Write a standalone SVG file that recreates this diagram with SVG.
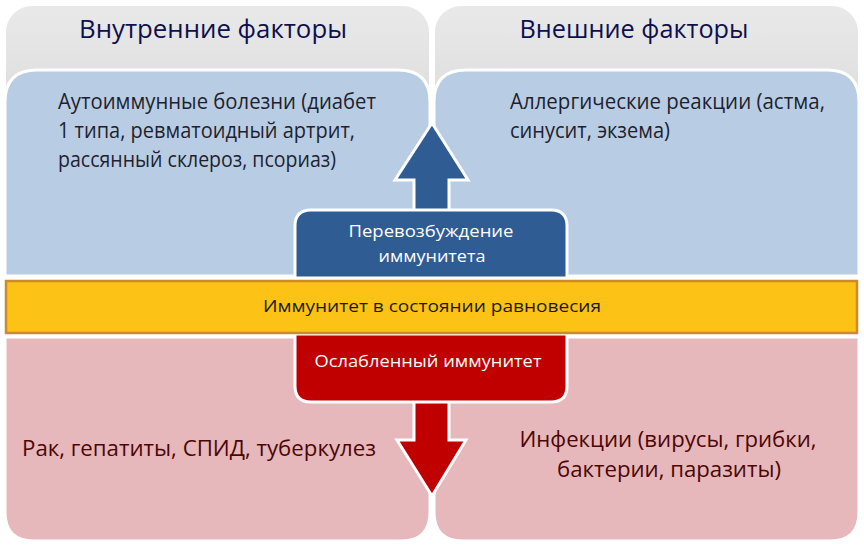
<svg xmlns="http://www.w3.org/2000/svg" width="864" height="548" viewBox="0 0 864 548">
<defs>
<linearGradient id="gGrey" x1="0" y1="0" x2="0" y2="1">
<stop offset="0" stop-color="#e9e9e9"/><stop offset="1" stop-color="#d9d9d9"/>
</linearGradient>
<style>
text{font-family:"Open Sans","DejaVu Sans",sans-serif}
.hdr{font-size:26px;fill:#0f0f4d}
.body{font-size:21px;fill:#1f1f2e}
.white{font-size:17px;fill:#ffffff}
.mid{font-size:17px;fill:#1a1a1a}
.red{font-size:22px;fill:#4d0606}
.grey{fill:url(#gGrey)}
.blue{fill:#b8cde4;stroke:#ffffff;stroke-width:3}
.pink{fill:#e7b8bb;stroke:#ffffff;stroke-width:3}
</style>
</defs>
<rect width="864" height="548" fill="#ffffff"/>
<g id="header-left">
<rect class="grey" x="6" y="6" width="423" height="140" rx="26"/>
<text class="hdr" x="213" y="38" text-anchor="middle" textLength="268" lengthAdjust="spacingAndGlyphs">Внутренние факторы</text>
</g>
<g id="header-right">
<rect class="grey" x="435" y="6" width="423" height="140" rx="26"/>
<text class="hdr" x="634" y="38" text-anchor="middle" textLength="229" lengthAdjust="spacingAndGlyphs">Внешние факторы</text>
</g>
<g id="panel-internal-up">
<path class="blue" d="M5,276 V102 Q5,70 37,70 H398 Q430,70 430,102 V276 Z"/>
<text class="body" x="58" y="109" textLength="318" lengthAdjust="spacingAndGlyphs">Аутоиммунные болезни (диабет</text>
<text class="body" x="58" y="138" textLength="297" lengthAdjust="spacingAndGlyphs">1 типа, ревматоидный артрит,</text>
<text class="body" x="58" y="167" textLength="278" lengthAdjust="spacingAndGlyphs">рассянный склероз, псориаз)</text>
</g>
<g id="panel-external-up">
<path class="blue" d="M434,276 V102 Q434,70 466,70 H827 Q859,70 859,102 V276 Z"/>
<text class="body" x="510" y="109" textLength="315" lengthAdjust="spacingAndGlyphs">Аллергические реакции (астма,</text>
<text class="body" x="510" y="138" textLength="160" lengthAdjust="spacingAndGlyphs">синусит, экзема)</text>
</g>
<g id="panel-internal-down">
<path class="pink" d="M5,337 V512 Q5,541 34,541 H401 Q430,541 430,512 V337 Z"/>
<text class="red" x="22" y="456" textLength="354" lengthAdjust="spacingAndGlyphs">Рак, гепатиты, СПИД, туберкулез</text>
</g>
<g id="panel-external-down">
<path class="pink" d="M434,337 V512 Q434,541 463,541 H830 Q859,541 859,512 V337 Z"/>
<text class="red" x="668" y="447" text-anchor="middle" textLength="297" lengthAdjust="spacingAndGlyphs">Инфекции (вирусы, грибки,</text>
<text class="red" x="669" y="477" text-anchor="middle" textLength="224" lengthAdjust="spacingAndGlyphs">бактерии, паразиты)</text>
</g>
<g id="connectors">
<path d="M432,123 L468,180 H449 V214 H414 V180 H395 Z" fill="#2f5d93" stroke="#ffffff" stroke-width="3" stroke-linejoin="miter"/>
<path d="M432,496 L466,440 H449 V398 H414 V440 H397 Z" fill="#c00000" stroke="#ffffff" stroke-width="3" stroke-linejoin="miter"/>
</g>
<g id="node-over">
<path d="M295,278 V226 Q295,210 311,210 H551 Q567,210 567,226 V278 Z" fill="#2f5d93" stroke="#ffffff" stroke-width="3"/>
<text class="white" x="431" y="237" text-anchor="middle" textLength="165" lengthAdjust="spacingAndGlyphs">Перевозбуждение</text>
<text class="white" x="432" y="262" text-anchor="middle" textLength="107" lengthAdjust="spacingAndGlyphs">иммунитета</text>
</g>
<g id="node-weak">
<path d="M295,334 V386 Q295,402 311,402 H551 Q567,402 567,386 V334 Z" fill="#c00000" stroke="#ffffff" stroke-width="3"/>
<text class="white" x="428" y="367" text-anchor="middle" textLength="227" lengthAdjust="spacingAndGlyphs">Ослабленный иммунитет</text>
</g>
<g id="node-balance">
<rect x="6" y="281" width="851" height="52" fill="#fdc216" stroke="#cc8a2b" stroke-width="2.5"/>
<text class="mid" x="432" y="312" text-anchor="middle" textLength="338" lengthAdjust="spacingAndGlyphs">Иммунитет в состоянии равновесия</text>
</g>
</svg>
